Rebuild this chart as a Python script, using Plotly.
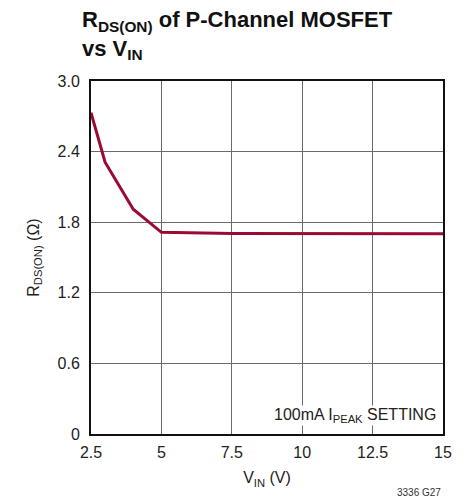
import plotly.graph_objects as go

vin = [2.5, 3.0, 4.0, 5.0, 7.5, 10.0, 12.5, 15.0]
rds = [2.73, 2.31, 1.91, 1.714, 1.705, 1.703, 1.702, 1.702]

x_ticks = [2.5, 5, 7.5, 10, 12.5, 15]
x_tick_labels = ["2.5", "5", "7.5", "10", "12.5", "15"]
y_ticks = [0, 0.6, 1.2, 1.8, 2.4, 3.0]
y_tick_labels = ["0", "0.6", "1.2", "1.8", "2.4", "3.0"]

FONT = "Liberation Sans Narrow, Arial Narrow, Liberation Sans, sans-serif"

fig = go.Figure()
fig.add_trace(go.Scatter(x=vin, y=rds, mode="lines",
                         line=dict(color="#9b0a32", width=3), showlegend=False,
                         hoverinfo="skip"))

fig.update_layout(
    width=463, height=492,
    margin=dict(l=83, r=28, t=73, b=66),
    paper_bgcolor="white", plot_bgcolor="white",
    font=dict(family=FONT, size=16, color="#222"),
    title=dict(text="<b>R<sub>DS(ON)</sub> of P-Channel MOSFET<br>vs V<sub>IN</sub></b>",
               x=74/463, xanchor="left", y=1-19/492, yanchor="top",
               font=dict(family=FONT, size=22, color="#111")),
    xaxis=dict(range=[2.5, 15], tickvals=x_ticks, ticktext=x_tick_labels,
               showgrid=True, gridcolor="#6a6a6a", gridwidth=1,
               showline=True, linecolor="#111", linewidth=2, mirror=True,
               ticks="", zeroline=False, ticklabelstandoff=3,
               title=dict(text="V<sub>IN</sub> (V)", standoff=12,
                          font=dict(family=FONT, size=16))),
    yaxis=dict(range=[0, 3.0], tickvals=y_ticks, ticktext=y_tick_labels,
               showgrid=True, gridcolor="#6a6a6a", gridwidth=1,
               showline=True, linecolor="#111", linewidth=2, mirror=True,
               ticks="", zeroline=False, ticklabelstandoff=6,
               title=dict(text="R<sub>DS(ON)</sub> (Ω)", standoff=14,
                          font=dict(family=FONT, size=16))),
    annotations=[
        dict(text="100mA I<sub>PEAK</sub> SETTING", x=14.8, y=0.07,
             xref="x", yref="y", xanchor="right", yanchor="bottom",
             showarrow=False, bgcolor="white", borderpad=0,
             font=dict(family=FONT, size=16, color="#222")),
        dict(text="3336 G27", x=1.0, y=-0.167, xref="paper", yref="paper",
             xanchor="right", yanchor="middle", showarrow=False,
             font=dict(family=FONT, size=10, color="#333")),
    ],
)

fig.write_html("out.html")
